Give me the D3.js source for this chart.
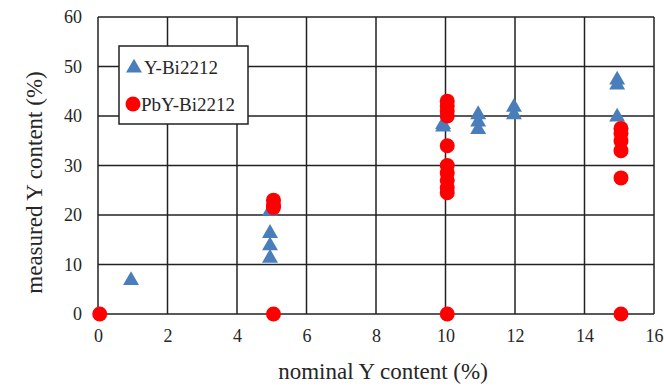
<!DOCTYPE html>
<html>
<head>
<meta charset="utf-8">
<script src="https://cdn.jsdelivr.net/npm/d3@7"></script>
<style>
  html, body { margin: 0; padding: 0; background: #fff; }
  svg text { font-family: "Liberation Serif", "Times New Roman", serif !important; fill: #262626; }
</style>
</head>
<body>
<div id="chart"></div>
<script>
// Y-Bi2212 (triangles)
const yBiX = [0.95, 4.95, 4.95, 4.95, 4.95, 9.93, 9.93, 10.94, 10.94, 10.94, 11.97, 11.97, 14.94, 14.94, 14.94];
const yBiY = [7, 21, 16.5, 14, 11.5, 38, 38.5, 40.5, 39, 37.5, 42, 40.5, 47.5, 46.5, 40];

// PbY-Bi2212 (circles)
const pbX = [0.05, 5.05, 5.05, 5.05, 5.05,
  10.05, 10.05, 10.05, 10.05, 10.05, 10.05, 10.05, 10.05, 10.05, 10.05, 10.05,
  15.05, 15.05, 15.05, 15.05, 15.05, 15.05];
const pbY = [0, 23, 22, 21.5, 0,
  43, 42, 41, 40, 34, 30, 28.5, 27, 25.5, 24.5, 0,
  37.5, 36.5, 35, 33, 27.5, 0];

const xTicks = [0, 2, 4, 6, 8, 10, 12, 14, 16];
const yTicks = [0, 10, 20, 30, 40, 50, 60];

const W = 664, H = 391;
const margin = { top: 17, right: 10, bottom: 77, left: 98 };
const width = W - margin.left - margin.right;
const height = H - margin.top - margin.bottom;

const svg = d3.select("#chart").append("svg")
  .attr("width", W).attr("height", H);

const g = svg.append("g").attr("transform", `translate(${margin.left},${margin.top})`);

const x = d3.scaleLinear().domain([0, 16]).range([0, width]);
const y = d3.scaleLinear().domain([0, 60]).range([height, 0]);

// grid
g.append("g")
  .selectAll("line").data(xTicks).join("line")
  .attr("x1", d => x(d)).attr("x2", d => x(d))
  .attr("y1", 0).attr("y2", height)
  .attr("stroke", "#222").attr("stroke-width", 1.5);
g.append("g")
  .selectAll("line").data(yTicks).join("line")
  .attr("x1", 0).attr("x2", width)
  .attr("y1", d => y(d)).attr("y2", d => y(d))
  .attr("stroke", "#222").attr("stroke-width", 1.5);

// tick labels
const xAxis = g.append("g").attr("transform", `translate(0,${height})`)
  .call(d3.axisBottom(x).tickValues(xTicks).tickSize(0).tickPadding(15));
const yAxis = g.append("g")
  .call(d3.axisLeft(y).tickValues(yTicks).tickSize(0).tickPadding(16));
[xAxis, yAxis].forEach(a => {
  a.attr("font-family", null);
  a.select(".domain").remove();
  a.selectAll("text").attr("font-size", 18).attr("fill", "#262626");
});

svg.append("text")
  .attr("x", margin.left + width / 2 + 7)
  .attr("y", 379)
  .attr("text-anchor", "middle")
  .attr("font-size", 23)
  .text("nominal Y content (%)");

svg.append("text")
  .attr("transform", `translate(42,${margin.top + height / 2 + 17}) rotate(-90)`)
  .attr("text-anchor", "middle")
  .attr("font-size", 23)
  .text("measured Y content (%)");

const tri = d3.symbol().type(d3.symbolTriangle).size(110);

g.append("g").selectAll("path").data(yBiX).join("path")
  .attr("d", tri)
  .attr("transform", (d, i) => `translate(${x(d)},${y(yBiY[i]) + 1})`)
  .attr("fill", "#4a7ebb");

g.append("g").selectAll("circle").data(pbX).join("circle")
  .attr("cx", d => x(d))
  .attr("cy", (d, i) => y(pbY[i]))
  .attr("r", 7.5)
  .attr("fill", "#ff0000");

// legend
const lg = svg.append("g").attr("transform", "translate(119,46)");
lg.append("rect").attr("width", 129).attr("height", 78)
  .attr("fill", "#fff").attr("stroke", "#222").attr("stroke-width", 1.5);
lg.append("path").attr("d", tri).attr("transform", "translate(15,22)").attr("fill", "#4a7ebb");
lg.append("text").attr("x", 25).attr("y", 28).attr("font-size", 19).text("Y-Bi2212");
lg.append("circle").attr("cx", 14).attr("cy", 58).attr("r", 7.5).attr("fill", "#ff0000");
lg.append("text").attr("x", 22).attr("y", 65).attr("font-size", 19).text("PbY-Bi2212");
</script>
</body>
</html>
